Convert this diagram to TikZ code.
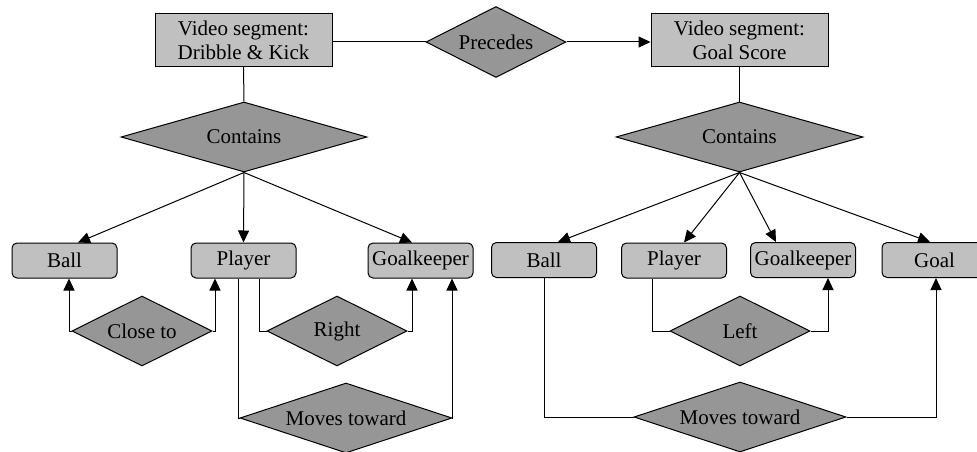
\documentclass[tikz,border=0pt]{standalone}
\usepackage{fontspec}
\setmainfont{Liberation Serif}
\usetikzlibrary{shapes.geometric,arrows.meta,calc}

\definecolor{boxfill}{RGB}{192,192,192}
\definecolor{relfill}{RGB}{150,150,150}

\tikzset{
  segbox/.style={draw=black, line width=1pt, fill=boxfill, minimum width=177pt,
    minimum height=53pt, inner sep=0pt, align=center,
    font=\fontsize{21}{24}\selectfont},
  objbox/.style={draw=black, line width=1pt, fill=boxfill, rounded corners=5pt,
    minimum width=105pt, minimum height=35pt, inner sep=0pt,
    font=\fontsize{21}{24}\selectfont},
  rel/.style={diamond, draw=black, line width=1pt, fill=relfill, aspect=3,
    inner sep=0pt, font=\fontsize{21}{24}\selectfont},
  link/.style={line width=1pt, draw=black},
  arr/.style={link, -{Triangle[length=12pt,width=11pt]}},
}

\begin{document}
\begin{tikzpicture}[x=1pt,y=-1pt]
\useasboundingbox (0,0) rectangle (977,452);

% video segments and their ordering
\node[segbox] (dk) at (243.5,40) {Video segment:\\Dribble \& Kick};
\node[segbox] (gs) at (739.5,40) {Video segment:\\Goal Score};
\node[rel, minimum width=140pt, minimum height=71pt] (prec) at (496,42) {Precedes};

% containment relations
\node[rel, minimum width=246pt, minimum height=70pt] (conl) at (244,137) {Contains};
\node[rel, minimum width=247pt, minimum height=70pt] (conr) at (739.5,137) {Contains};

% objects of the first segment
\node[objbox] (lball) at (64.5,260.5) {Ball};
\node[objbox] (lplay) at (243.5,260.5) {Player};
\node[objbox] (lgk)   at (420.5,260.5) {Goalkeeper};

% objects of the second segment
\node[objbox] (rball) at (544,260) {Ball};
\node[objbox] (rplay) at (674,260.5) {Player};
\node[objbox] (rgk)   at (803,260) {Goalkeeper};
\node[objbox] (rgoal) at (934.5,260) {Goal};

% spatial and motion relations
\node[rel, minimum width=140pt, minimum height=70pt] (close) at (142,331) {Close to};
\node[rel, minimum width=140pt, minimum height=70pt] (right) at (337,331) {Right};
\node[rel, minimum width=212pt, minimum height=70pt] (movl)  at (346,418) {Moves toward};
\node[rel, minimum width=140pt, minimum height=70pt] (left)  at (740,331) {Left};
\node[rel, minimum width=212pt, minimum height=70pt] (movr)  at (740,417) {Moves toward};

% segment links
\draw[link] (prec.west -| dk.east) -- (prec.west);
\draw[arr] (prec.east) -- (prec.east -| gs.west);
\draw[link] (dk.south) -- (conl.north);
\draw[link] (gs.south) -- (conr.north);

% contains arrows
\draw[arr] (conl.south) -- ($(lball.north)+(13.5,0)$);
\draw[arr] (conl.south) -- (lplay.north);
\draw[arr] (conl.south) -- ($(lgk.north)+(-8.5,0)$);
\draw[arr] (conr.south) -- ($(rball.north)+(14,0)$);
\draw[arr] (conr.south) -- ($(rplay.north)+(10,0)$);
\draw[arr] (conr.south) -- ($(rgk.north)+(-27,0)$);
\draw[arr] (conr.south) -- ($(rgoal.north)+(-4.5,0)$);

% first segment relations
\draw[arr] (close.west) -| ($(lball.south)+(4.5,0)$);
\draw[arr] (close.east) -| ($(lplay.south)+(-28.5,0)$);
\draw[link] ($(lplay.south)+(15.5,0)$) |- (right.west);
\draw[arr] (right.east) -| ($(lgk.south)+(-8.5,0)$);
\draw[link] ($(lplay.south)+(-5.5,0)$) |- (movl.west);
\draw[arr] (movl.east) -| ($(lgk.south)+(31.5,0)$);

% second segment relations
\draw[link] ($(rplay.south)+(-22,0)$) |- (left.west);
\draw[arr] (left.east) -| ($(rgk.south)+(25,0)$);
\draw[link] (rball.south) |- (movr.west);
\draw[arr] (movr.east) -| ($(rgoal.south)+(1.5,0)$);
\end{tikzpicture}
\end{document}
